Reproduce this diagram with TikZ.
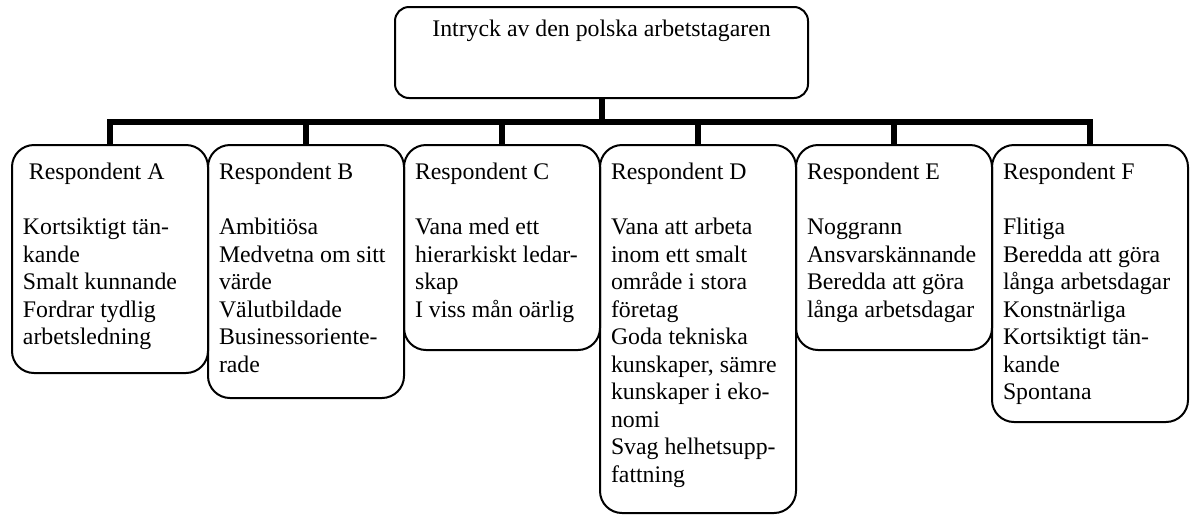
\documentclass[tikz,border=0pt]{standalone}
\usepackage{fontspec}
\setmainfont{Liberation Serif}
\begin{document}
\begin{tikzpicture}[x=0.5pt,y=-0.5pt,
  txt/.style={font=\fontsize{11.9}{13.75}\selectfont},
  card/.style={draw, line width=1pt, rounded corners=11pt, minimum width=98pt,
    inner sep=0pt, outer sep=0pt, anchor=north},
  cardtext/.style={txt, align=left, inner sep=0pt, outer sep=0pt, anchor=north west},
  headbox/.style={draw, line width=1pt, rounded corners=7pt, minimum width=206.5pt,
    minimum height=45.5pt, inner sep=0pt, outer sep=0pt, anchor=north},
  conn/.style={line width=3pt, line join=miter}]
\useasboundingbox (0,0) rectangle (1193,515);

% heading box
\node[headbox] (head) at (601.5,7) {};
\node[txt, anchor=base] (headtext) at (601.5,36) {Intryck av den polska arbetstagaren};

% respondent boxes
\node[card, minimum height=114pt]   (bA) at (110,145) {};
\node[card, minimum height=126.5pt] (bB) at (306,145) {};
\node[card, minimum height=102.5pt] (bC) at (502,145) {};
\node[card, minimum height=184pt]   (bD) at (698,145) {};
\node[card, minimum height=102.5pt] (bE) at (894,145) {};
\node[card, minimum height=138.5pt] (bF) at (1090,145) {};

% box contents
\node[cardtext] (tA) at ([xshift=5.5pt,yshift=-9pt]bA.north west)
  {\hspace*{0.25em}Respondent A\\[13.75pt]Kortsiktigt tän-\\kande\\Smalt kunnande\\Fordrar tydlig\\arbetsledning};
\node[cardtext] (tB) at ([xshift=5.5pt,yshift=-9pt]bB.north west)
  {Respondent B\\[13.75pt]Ambitiösa\\Medvetna om sitt\\värde\\Välutbildade\\Businessoriente-\\rade};
\node[cardtext] (tC) at ([xshift=5.5pt,yshift=-9pt]bC.north west)
  {Respondent C\\[13.75pt]Vana med ett\\hierarkiskt ledar-\\skap\\I viss mån oärlig};
\node[cardtext] (tD) at ([xshift=5.5pt,yshift=-9pt]bD.north west)
  {Respondent D\\[13.75pt]Vana att arbeta\\inom ett smalt\\område i stora\\företag\\Goda tekniska\\kunskaper, sämre\\kunskaper i eko-\\nomi\\Svag helhetsupp-\\fattning};
\node[cardtext] (tE) at ([xshift=5.5pt,yshift=-9pt]bE.north west)
  {Respondent E\\[13.75pt]Noggrann\\Ansvarskännande\\Beredda att göra\\långa arbetsdagar};
\node[cardtext] (tF) at ([xshift=5.5pt,yshift=-9pt]bF.north west)
  {Respondent F\\[13.75pt]Flitiga\\Beredda att göra\\långa arbetsdagar\\Konstnärliga\\Kortsiktigt tän-\\kande\\Spontana};

% tree connectors
\coordinate (bar) at (601.5,122);
\draw[conn] (head.south) -- (bar);
\draw[conn] (bA.north) |- (bar) -| (bF.north);
\foreach \b in {bB,bC,bD,bE}
  \draw[conn] (\b.north) -- (\b.north |- bar);
\end{tikzpicture}
\end{document}
